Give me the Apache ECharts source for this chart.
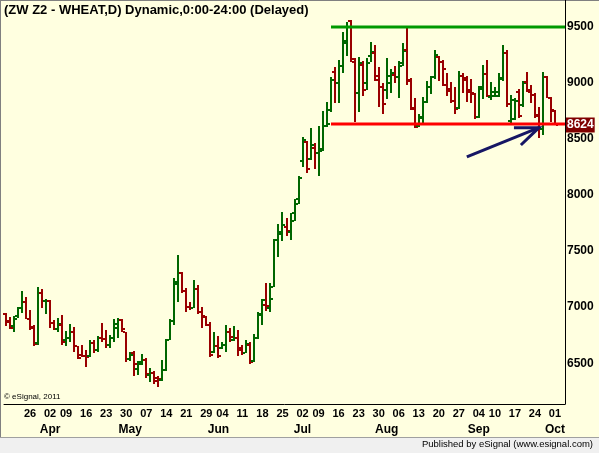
<!DOCTYPE html>
<html>
<head>
<meta charset="utf-8">
<title>ZW Z2 - WHEAT, D</title>
<script src="https://cdn.jsdelivr.net/npm/echarts@6/dist/echarts.min.js"></script>
<style>
  html, body { margin: 0; padding: 0; background: #ffffe0; }
  #chart { width: 599px; height: 453px; }
</style>
</head>
<body>
<div id="chart"></div>
<script>
// trading days (2012), the last two are empty slots on the right edge
const dates = [
  '03-16',
  '03-19', '03-20', '03-21', '03-22', '03-23',
  '03-26', '03-27', '03-28', '03-29', '03-30',
  '04-02', '04-03', '04-04', '04-05',
  '04-09', '04-10', '04-11', '04-12', '04-13',
  '04-16', '04-17', '04-18', '04-19', '04-20',
  '04-23', '04-24', '04-25', '04-26', '04-27',
  '04-30', '05-01', '05-02', '05-03', '05-04',
  '05-07', '05-08', '05-09', '05-10', '05-11',
  '05-14', '05-15', '05-16', '05-17', '05-18',
  '05-21', '05-22', '05-23', '05-24', '05-25',
  '05-29', '05-30', '05-31', '06-01',
  '06-04', '06-05', '06-06', '06-07', '06-08',
  '06-11', '06-12', '06-13', '06-14', '06-15',
  '06-18', '06-19', '06-20', '06-21', '06-22',
  '06-25', '06-26', '06-27', '06-28', '06-29',
  '07-02', '07-03', '07-05', '07-06',
  '07-09', '07-10', '07-11', '07-12', '07-13',
  '07-16', '07-17', '07-18', '07-19', '07-20',
  '07-23', '07-24', '07-25', '07-26', '07-27',
  '07-30', '07-31', '08-01', '08-02', '08-03',
  '08-06', '08-07', '08-08', '08-09', '08-10',
  '08-13', '08-14', '08-15', '08-16', '08-17',
  '08-20', '08-21', '08-22', '08-23', '08-24',
  '08-27', '08-28', '08-29', '08-30', '08-31',
  '09-04', '09-05', '09-06', '09-07',
  '09-10', '09-11', '09-12', '09-13', '09-14',
  '09-17', '09-18', '09-19', '09-20', '09-21',
  '09-24', '09-25', '09-26', '09-27', '09-28',
  '10-01', '10-02', '10-03'
]

const opens = [
  6940, 6868, 6836, 6925, 6990, 7050, 6895, 6827, 6678, 7124,
  7056, 7056, 6857, 6806, 6842, 6708, 6729, 6782, 6654, 6574,
  6565, 6565, 6678, 6619, 6723, 6717, 6663, 6723, 6818, 6883,
  6776, 6539, 6589, 6449, 6491, 6530, 6396, 6411, 6366, 6351,
  6438, 6708, 6877, 7222, 7302, 7145, 7005, 6996, 7160, 6960,
  6916, 6842, 6604, 6654, 6634, 6663, 6776, 6708, 6723, 6619,
  6595, 6663, 6524, 6723, 6931, 7020, 6990, 7183, 7599, 7656,
  7718, 7671, 7837, 7962, 8300, 8473, 8318, 8419, 8372, 8407,
  8615, 8758, 9100, 8996, 9150, 9352, 9554, 9189, 8912, 9159,
  9002, 9239, 9269, 9061, 8960, 8936, 9002, 9070, 9055, 9180,
  9293, 9019, 8764, 8615, 8684, 8832, 8960, 9049, 9233, 9189,
  8980, 8942, 8841, 8773, 9061, 9025, 8936, 8900, 8693, 8942,
  9079, 8871, 8883, 8883, 9031, 9263, 8663, 8675, 8921, 8803,
  9011, 8921, 8892, 8705, 8586, 9049, 8862, 8752
]
const highs = [
  6946, 6913, 6922, 6999, 7145, 7091, 6975, 6839, 7180, 7163,
  7070, 7060, 6883, 6901, 6928, 6788, 6848, 6824, 6657, 6663,
  6619, 6705, 6705, 6747, 6857, 6797, 6753, 6895, 6907, 6895,
  6780, 6604, 6610, 6521, 6586, 6550, 6461, 6432, 6390, 6530,
  6714, 6892, 7258, 7466, 7317, 7168, 7044, 7243, 7198, 7005,
  6925, 6865, 6776, 6747, 6687, 6842, 6812, 6833, 6797, 6663,
  6708, 6693, 6761, 6958, 7070, 7213, 7213, 7605, 7742, 7849,
  7795, 7837, 7962, 8170, 8514, 8479, 8598, 8461, 8616, 8749,
  8833, 9055, 9145, 9204, 9456, 9545, 9560, 9224, 9227, 9195,
  9218, 9361, 9337, 9144, 9002, 9218, 9120, 9150, 9195, 9358,
  9486, 9040, 8862, 8722, 8871, 9019, 9061, 9293, 9239, 9204,
  9088, 9011, 8960, 9105, 9085, 9061, 9031, 8912, 8972, 9159,
  9204, 9011, 8966, 9091, 9337, 9293, 8892, 8862, 8942, 9019,
  9100, 8981, 8912, 8782, 9100, 9061, 8871, 8758
]
const lows = [
  6836, 6803, 6776, 6907, 6946, 6892, 6800, 6657, 6663, 6990,
  6943, 6818, 6794, 6782, 6663, 6657, 6693, 6604, 6542, 6556,
  6470, 6559, 6592, 6598, 6687, 6634, 6634, 6687, 6729, 6776,
  6509, 6524, 6390, 6396, 6485, 6372, 6337, 6319, 6292, 6343,
  6435, 6705, 6842, 7044, 7124, 6960, 6975, 6990, 6937, 6818,
  6833, 6559, 6589, 6550, 6628, 6598, 6693, 6702, 6565, 6574,
  6589, 6494, 6515, 6714, 6839, 6969, 6960, 7177, 7451, 7593,
  7638, 7599, 7766, 7920, 8247, 8200, 8312, 8235, 8170, 8396,
  8604, 8740, 8820, 8817, 9085, 9239, 9189, 8654, 8743, 8883,
  8936, 9189, 9019, 8782, 8722, 8853, 8913, 8996, 8868, 9150,
  8981, 8758, 8595, 8604, 8624, 8823, 8901, 9031, 9019, 8972,
  8885, 8817, 8722, 8764, 8913, 8832, 8817, 8675, 8684, 8853,
  8871, 8847, 8871, 8871, 9019, 8788, 8645, 8669, 8684, 8788,
  8921, 8817, 8684, 8505, 8535, 8865, 8654, 8620
]
const closes = [
  6877, 6812, 6892, 6990, 7050, 6895, 6818, 6669, 7124, 7056,
  7059, 6857, 6806, 6848, 6693, 6729, 6782, 6654, 6551, 6565,
  6559, 6678, 6619, 6723, 6717, 6663, 6729, 6848, 6886, 6806,
  6539, 6574, 6491, 6509, 6530, 6402, 6411, 6343, 6357, 6438,
  6708, 6877, 7204, 7302, 7145, 7005, 6996, 7160, 6960, 6925,
  6842, 6574, 6654, 6568, 6663, 6782, 6732, 6723, 6634, 6595,
  6672, 6515, 6723, 6940, 7064, 7011, 7070, 7599, 7671, 7730,
  7677, 7771, 7920, 8149, 8491, 8229, 8449, 8378, 8396, 8615,
  8633, 9025, 8996, 9150, 9373, 9495, 9210, 8906, 9174, 8936,
  9174, 9275, 9025, 8960, 8811, 9061, 9085, 9055, 9150, 9287,
  9025, 8773, 8609, 8693, 8832, 8966, 9049, 9248, 9189, 9120,
  8930, 8841, 8764, 9061, 9040, 8921, 8912, 8693, 8960, 9079,
  8883, 8921, 8921, 9040, 9269, 8811, 8847, 8841, 8705, 9002,
  8936, 8892, 8714, 8586, 9055, 8868, 8758, 8624
]

// x labels: first session of each week, and month names
const weekStarts = [
  '03-26', '04-02', '04-09', '04-16', '04-23', '04-30', '05-07', '05-14', '05-21', '05-29',
  '06-04', '06-11', '06-18', '06-25', '07-02', '07-09', '07-16', '07-23', '07-30', '08-06',
  '08-13', '08-20', '08-27', '09-04', '09-10', '09-17', '09-24', '10-01'
]
const monthStarts = ['04-02', '05-01', '06-01', '07-02', '08-01', '09-04', '10-01']
const monthNames = ['Apr', 'May', 'Jun', 'Jul', 'Aug', 'Sep', 'Oct']
const priceTicks = [6500, 7000, 7500, 8000, 8500, 9000, 9500]

// drawn levels: resistance / support, starting mid-July
const levelStart = '07-12'
const resistance = 9495
const support = 8630
// arrow annotation (tail -> tip)
const arrowFrom = ['08-29', 8340]
const arrowTo = ['09-25', 8600]

const UP = '#006600'
const DOWN = '#990000'
const FONT = 'Liberation Sans, Arial, sans-serif'

const chart = echarts.init(document.getElementById('chart'))

function renderBar(params, api) {
  const i = api.value(0)
  const o = api.value(1)
  const c = api.value(4)
  const top = api.coord([i, api.value(2)])
  const bot = api.coord([i, api.value(3)])
  const x = Math.round(top[0])
  const yH = Math.round(top[1])
  const yL = Math.round(bot[1])
  const yO = Math.round(api.coord([i, o])[1])
  const yC = Math.round(api.coord([i, c])[1])
  const color = c >= o ? UP : DOWN
  return {
    type: 'group',
    children: [
      { type: 'rect', shape: { x: x - 1, y: yH, width: 2, height: Math.max(2, yL - yH) }, style: { fill: color } },
      { type: 'rect', shape: { x: x - 3, y: yO - 1, width: 2, height: 2 }, style: { fill: color } },
      { type: 'rect', shape: { x: x + 1, y: yC - 1, width: 2, height: 2 }, style: { fill: color } }
    ]
  }
}

function renderLevel(params, api) {
  const p = api.coord([api.value(0), api.value(1)])
  const right = params.coordSys.x + params.coordSys.width
  const y = Math.round(p[1])
  return {
    type: 'rect',
    shape: { x: Math.round(p[0]), y: y - 1.5, width: right - Math.round(p[0]), height: 3 },
    style: { fill: params.dataIndex === 0 ? '#009900' : '#ff0000' }
  }
}

function renderLast(params, api) {
  const p = api.coord([api.value(0), api.value(1)])
  const right = params.coordSys.x + params.coordSys.width
  return {
    type: 'text',
    x: right + 1,
    y: Math.round(p[1]),
    style: {
      text: String(api.value(1)),
      fill: '#ffffff',
      font: 'bold 12px ' + FONT,
      verticalAlign: 'middle',
      backgroundColor: '#800000',
      padding: [2, 1, 1, 1]
    }
  }
}

function renderArrow(params, api) {
  const a = api.coord([api.value(0), api.value(1)])
  const b = api.coord([api.value(2), api.value(3)])
  const ang = Math.atan2(b[1] - a[1], b[0] - a[0]) + Math.PI
  const len = 25
  const spread = 0.38
  const style = { stroke: '#161664', lineWidth: 3, fill: null }
  return {
    type: 'group',
    children: [
      { type: 'line', shape: { x1: a[0], y1: a[1], x2: b[0], y2: b[1] }, style },
      { type: 'polyline', shape: { points: [
        [b[0] + len * Math.cos(ang - spread), b[1] + len * Math.sin(ang - spread)],
        [b[0], b[1]],
        [b[0] + len * Math.cos(ang + spread), b[1] + len * Math.sin(ang + spread)]
      ] }, style }
    ]
  }
}

const isWeekStart = (idx) => weekStarts.indexOf(dates[idx]) >= 0
const isMonthStart = (idx) => monthStarts.indexOf(dates[idx]) >= 0

const option = {
  backgroundColor: '#ffffe0',
  animation: false,
  title: {
    text: '(ZW Z2 - WHEAT,D) Dynamic,0:00-24:00 (Delayed)',
    left: 4,
    top: 4,
    padding: 0,
    textStyle: { fontFamily: FONT, fontWeight: 'bold', fontSize: 13, color: '#000' }
  },
  grid: { left: 4, top: 0, width: 561, height: 404 },
  xAxis: [
    {
      type: 'category',
      data: dates,
      boundaryGap: true,
      axisLine: { lineStyle: { color: '#000', width: 1 } },
      axisTick: { interval: isWeekStart, alignWithLabel: true, length: 3, lineStyle: { color: '#000' } },
      axisLabel: {
        interval: isWeekStart,
        formatter: (v) => v.slice(3),
        color: '#000',
        fontFamily: FONT,
        fontWeight: 'bold',
        fontSize: 11,
        margin: 4
      },
      splitLine: { show: false }
    },
    {
      type: 'category',
      data: dates,
      position: 'bottom',
      offset: 16,
      axisLine: { show: false },
      axisTick: { show: false },
      axisLabel: {
        interval: isMonthStart,
        formatter: (v) => monthNames[monthStarts.indexOf(v)],
        color: '#000',
        fontFamily: FONT,
        fontWeight: 'bold',
        fontSize: 12,
        margin: 4
      },
      splitLine: { show: false }
    }
  ],
  yAxis: {
    type: 'value',
    position: 'right',
    min: 6137,
    max: 9738,
    axisLine: { show: true, lineStyle: { color: '#000', width: 1 } },
    axisTick: { show: false },
    splitLine: { show: false },
    axisLabel: {
      customValues: priceTicks,
      formatter: (v) => String(v),
      color: '#000',
      fontFamily: FONT,
      fontWeight: 'bold',
      fontSize: 12,
      margin: 2
    }
  },
  graphic: [
    { type: 'rect', left: 0, top: 437, shape: { width: 599, height: 16 }, style: { fill: '#f0f0f0' } },
    { type: 'line', shape: { x1: 0, y1: 437.5, x2: 599, y2: 437.5 }, style: { stroke: '#a0a0a0', lineWidth: 1 } },
    { type: 'line', shape: { x1: 0.5, y1: 0, x2: 0.5, y2: 437 }, style: { stroke: '#808080', lineWidth: 1 } },
    { type: 'line', shape: { x1: 0, y1: 0.5, x2: 599, y2: 0.5 }, style: { stroke: '#808080', lineWidth: 1 } },
    {
      type: 'text', left: 4, top: 393,
      style: { text: '\u00a9 eSignal, 2011', font: '8px ' + FONT, fill: '#000' }
    },
    {
      type: 'text', right: 6, top: 439,
      style: { text: 'Published by eSignal (www.esignal.com)', font: '9.5px ' + FONT, fill: '#000' }
    }
  ],
  series: [
    {
      name: 'ZW Z2',
      type: 'custom',
      renderItem: renderBar,
      encode: { x: 0, y: [1, 2, 3, 4] },
      data: closes.map((c, i) => [i, opens[i], highs[i], lows[i], c]),
      clip: false
    },
    {
      name: 'levels',
      type: 'custom',
      renderItem: renderLevel,
      encode: { x: 0, y: 1 },
      data: [[levelStart, resistance], [levelStart, support]],
      clip: false,
      z: 3
    },
    {
      name: 'arrow',
      type: 'custom',
      renderItem: renderArrow,
      encode: { x: [0, 2], y: [1, 3] },
      data: [[arrowFrom[0], arrowFrom[1], arrowTo[0], arrowTo[1]]],
      clip: false,
      z: 4
    },
    {
      name: 'last',
      type: 'custom',
      renderItem: renderLast,
      encode: { x: 0, y: 1 },
      data: [[dates[closes.length - 1], closes[closes.length - 1]]],
      clip: false,
      z: 5
    }
  ]
}

chart.setOption(option)
window.addEventListener('resize', () => chart.resize())
</script>
</body>
</html>
